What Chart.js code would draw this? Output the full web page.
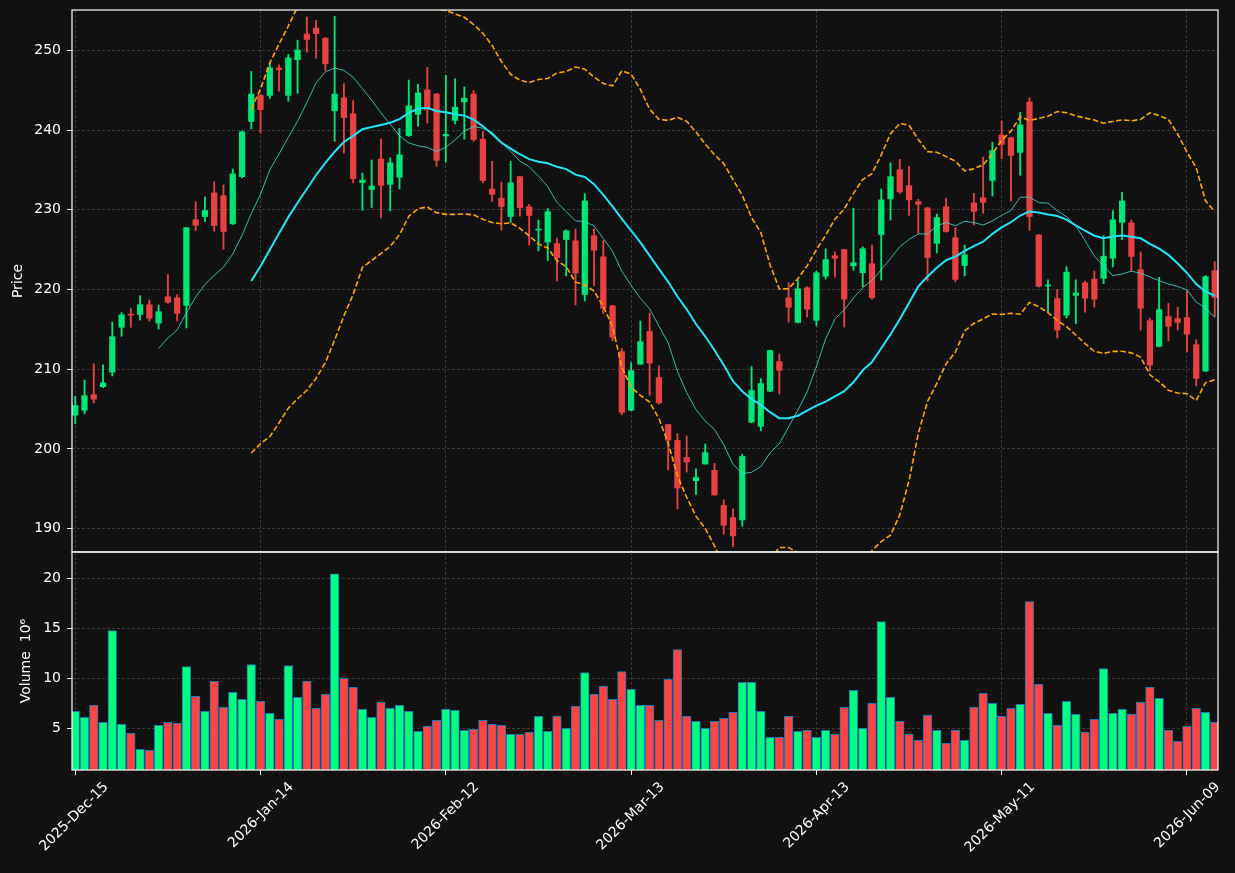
<!DOCTYPE html>
<html><head><meta charset="utf-8">
<script src="https://cdn.jsdelivr.net/npm/chart.js@4.4.1/dist/chart.umd.min.js"></script>
<style>
html,body{margin:0;padding:0;background:#111111;width:1235px;height:873px;overflow:hidden;}
#c1{position:absolute;left:0;top:0;width:1235px;height:553px;}
#c2{position:absolute;left:0;top:551px;width:1235px;height:322px;}
</style></head><body>
<canvas id="c1" width="1235" height="553"></canvas>
<canvas id="c2" width="1235" height="322"></canvas>
<script>
// ---- data (trading days 2025-12-15 .. 2026-06-12) ----
const opens = [204.24,204.85,206.81,207.81,209.64,215.26,216.87,216.87,218.09,215.78,
219.09,218.96,218.00,228.75,229.15,232.11,231.76,228.23,234.15,241.08,
244.34,244.34,247.78,244.34,248.82,252.05,252.79,251.52,242.42,244.04,
242.03,233.41,232.54,236.37,233.19,234.07,239.29,241.95,245.04,244.51,
239.25,241.21,243.51,244.51,238.85,232.59,231.45,229.15,234.15,230.37,
227.45,225.93,225.75,226.27,226.10,219.39,226.75,224.10,217.96,212.21,
204.85,210.64,214.74,208.95,203.07,201.07,198.93,196.02,198.11,197.32,
192.92,191.40,191.10,203.37,202.85,207.25,210.95,218.96,215.87,220.22,
216.13,221.66,224.23,225.01,222.96,222.09,223.23,226.88,231.37,235.02,
233.02,231.02,230.23,225.79,230.37,226.49,223.01,230.85,231.50,233.67,
239.38,239.03,237.20,243.51,226.84,220.44,218.87,216.78,219.26,220.83,
221.31,221.40,223.92,228.41,228.36,222.49,216.09,212.86,216.61,216.35,
216.48,213.08,209.77,222.36];
const highs = [206.60,208.64,210.69,210.56,215.91,217.09,217.61,219.22,218.70,218.05,
221.88,219.35,227.80,231.02,231.58,233.50,233.11,235.11,239.90,247.34,
244.50,248.52,248.17,249.48,251.26,254.18,253.74,251.60,254.27,245.82,
243.69,234.59,236.24,238.85,236.50,240.20,246.26,245.73,247.87,244.60,
246.87,246.43,245.39,244.95,239.81,236.07,233.46,236.07,234.20,230.67,
228.71,230.15,226.45,227.49,227.58,232.02,227.62,226.14,218.00,212.60,
210.82,216.04,217.04,210.43,203.10,201.94,201.63,197.50,200.63,198.19,
193.62,192.49,199.33,210.34,208.82,212.40,211.91,220.83,221.18,220.35,
222.31,225.10,224.71,225.05,230.19,225.36,225.58,232.59,235.89,236.33,
235.46,231.32,230.30,229.45,231.45,227.80,225.58,232.06,236.59,238.46,
241.12,239.10,242.21,244.04,226.90,221.22,220.00,222.88,221.22,221.05,
222.31,226.75,229.89,232.19,228.71,224.71,216.39,221.53,218.26,217.78,
219.79,213.69,221.75,223.49];
const lows = [203.16,204.42,205.77,207.68,209.16,214.13,215.26,216.17,216.04,215.04,
218.26,216.04,215.17,227.40,228.54,227.32,225.05,228.15,233.98,240.12,
239.60,243.95,244.86,243.60,244.60,249.74,249.00,247.47,238.59,237.11,
233.37,229.93,230.28,228.97,229.84,232.59,239.20,240.47,240.86,235.46,
235.98,240.77,238.85,238.59,233.37,231.06,227.45,228.41,229.19,225.58,
224.84,223.62,221.09,221.70,218.05,218.57,220.44,216.96,213.56,204.29,
204.80,210.60,206.72,205.64,197.37,192.49,197.10,194.27,198.10,194.20,
189.31,187.74,190.31,203.30,202.29,207.20,206.90,215.91,215.80,216.56,
215.43,221.31,221.53,215.30,222.40,220.35,218.79,221.18,228.71,232.06,
229.28,227.06,221.09,224.58,227.19,220.96,221.70,228.10,229.58,231.72,
236.42,231.11,234.33,227.40,220.30,217.17,213.91,216.43,215.69,217.17,
217.78,220.74,222.83,226.23,222.31,214.91,209.77,212.80,213.56,214.91,
212.17,207.90,209.70,216.61];
const closes = [205.46,206.68,206.25,208.29,214.08,216.83,216.78,218.09,216.39,217.22,
218.39,217.00,227.75,228.06,229.89,228.01,227.27,234.50,239.77,244.51,
242.56,247.78,247.56,249.04,250.04,251.35,252.09,248.30,244.51,241.55,
233.89,233.72,232.98,233.06,235.89,236.90,243.03,244.65,242.56,236.20,
239.46,242.86,243.99,238.81,233.67,231.93,230.41,233.37,230.28,229.28,
227.54,229.76,224.01,227.36,222.05,231.11,224.92,217.65,214.00,204.59,
209.82,213.47,210.77,205.77,201.11,195.10,198.37,196.45,199.54,194.23,
190.44,189.09,199.06,207.34,208.21,212.34,209.86,217.78,220.09,217.52,
222.09,223.75,223.92,218.79,223.36,225.10,218.96,231.24,234.15,232.24,
231.24,230.67,224.01,229.02,227.27,221.27,224.36,229.80,230.93,237.42,
238.20,236.81,240.64,229.15,220.40,220.57,214.91,222.18,219.57,218.92,
218.79,224.18,228.75,231.11,224.14,217.65,210.51,217.48,215.39,215.87,
214.39,208.86,221.61,219.00];
// volume in millions
const volumes = [6.7,6.1,7.3,5.6,14.8,5.4,4.5,2.9,2.8,5.3,
5.6,5.5,11.2,8.2,6.7,9.7,7.1,8.6,7.9,11.4,
7.7,6.5,5.9,11.3,8.1,9.7,7.0,8.4,20.5,10.0,
9.1,6.9,6.1,7.6,7.0,7.3,6.7,4.7,5.2,5.8,
6.9,6.8,4.8,4.9,5.8,5.4,5.3,4.4,4.4,4.6,
6.2,4.7,6.2,5.0,7.2,10.6,8.4,9.2,7.9,10.7,
8.9,7.3,7.3,5.8,9.9,12.9,6.2,5.7,5.0,5.7,
6.0,6.6,9.6,9.6,6.7,4.1,4.1,6.2,4.7,4.8,
4.1,4.8,4.4,7.1,8.8,5.0,7.5,15.7,8.1,5.7,
4.4,3.8,6.3,4.8,3.5,4.8,3.8,7.1,8.5,7.5,
6.2,7.0,7.4,17.7,9.4,6.5,5.3,7.7,6.4,4.6,
5.9,11.0,6.5,6.9,6.4,7.6,9.1,8.0,4.8,3.7,
5.2,7.0,6.6,5.6];
const tickPositions = [0,20,40,60,80,100,120];
const tickLabels = ['2025-Dec-15','2026-Jan-14','2026-Feb-12','2026-Mar-13','2026-Apr-13','2026-May-11','2026-Jun-09'];
const priceTicks = [190,200,210,220,230,240,250];
const volumeTicks = [5,10,15,20];
const MA_SHORT = 10, MA_LONG = 20, BB_K = 2;

// ---- indicators derived from closes ----
function sma(arr, n){ return arr.map((_, i) => i < n - 1 ? null : arr.slice(i - n + 1, i + 1).reduce((a, b) => a + b, 0) / n); }
function bollinger(arr, n, k){
  const mid = sma(arr, n);
  const up = [], lo = [];
  arr.forEach((_, i) => {
    if (mid[i] === null){ up.push(null); lo.push(null); return; }
    const w = arr.slice(i - n + 1, i + 1);
    const sd = Math.sqrt(w.reduce((a, b) => a + (b - mid[i]) ** 2, 0) / n);
    up.push(mid[i] + k * sd); lo.push(mid[i] - k * sd);
  });
  return {up, lo};
}
const maShort = sma(closes, MA_SHORT);
const maLong = sma(closes, MA_LONG);
const bb = bollinger(closes, MA_LONG, BB_K);
const toPts = arr => arr.map((v, i) => ({x: i, y: v})).filter(p => p.y !== null);

const UP_C = '#00e676', DN_C = '#e84142';
const VUP_C = '#00ff80', VDN_C = '#ff4444';
const isUp = closes.map((c, i) => c >= opens[i]);

const FONT = {family: "'DejaVu Sans', sans-serif", size: 14};
const GRID_C = '#3a3a3a';
const X_MIN = -0.35, X_MAX = 123.35;

const framePlugin = {
  id: 'frame',
  afterDraw(chart){
    const {ctx, chartArea: a} = chart;
    ctx.save();
    ctx.strokeStyle = '#ffffff';
    ctx.lineWidth = 1.2;
    ctx.strokeRect(a.left, a.top, a.right - a.left, a.bottom - a.top);
    ctx.restore();
  }
};

function xScale(showLabels){
  return {
    type: 'linear', min: X_MIN, max: X_MAX, offset: false,
    afterBuildTicks: s => { s.ticks = tickPositions.map(v => ({value: v})); },
    afterFit: s => { s.height = showLabels ? 103 : 0; s.paddingLeft = 0; s.paddingRight = 0; },
    ticks: {display: showLabels, autoSkip: false, minRotation: 45, maxRotation: 45,
      color: '#ffffff', font: FONT, padding: 4, labelOffset: 31,
      callback: (v, i) => tickLabels[i]},
    grid: {offset: false, color: GRID_C, lineWidth: 1, drawTicks: showLabels, tickLength: 5, tickColor: '#ffffff', tickBorderDash: []},
    border: {display: false, dash: [3, 2]}
  };
}
function yScale(min, max, ticks, title, titlePad){
  return {
    type: 'linear', position: 'left', min, max,
    afterBuildTicks: s => { s.ticks = ticks.map(v => ({value: v})); },
    afterFit: s => { s.width = 72; s.paddingTop = 0; s.paddingBottom = 0; },
    ticks: {color: '#ffffff', font: FONT, padding: 6},
    grid: {color: GRID_C, lineWidth: 1, tickLength: 5, tickColor: '#ffffff', tickBorderDash: []},
    border: {display: false, dash: [3, 2]},
    title: {display: true, text: title, color: '#ffffff', font: FONT, padding: {top: titlePad, bottom: 0}}
  };
}

Chart.defaults.font.family = FONT.family;
Chart.defaults.color = '#ffffff';

new Chart(document.getElementById('c1'), {
  type: 'bar',
  data: {
    datasets: [
      {type: 'line', label: 'MA' + MA_SHORT, data: toPts(maShort), borderColor: 'rgba(64,214,200,0.85)', borderWidth: 1, pointRadius: 0, tension: 0, order: 0},
      {type: 'line', label: 'MA' + MA_LONG, data: toPts(maLong), borderColor: '#1ee6f8', borderWidth: 2, pointRadius: 0, tension: 0, order: 0},
      {type: 'line', label: 'BB upper', data: toPts(bb.up), borderColor: '#ffa500', borderWidth: 1.6, borderDash: [5.5, 2.5], pointRadius: 0, tension: 0, order: 0},
      {type: 'line', label: 'BB lower', data: toPts(bb.lo), borderColor: '#ffa500', borderWidth: 1.6, borderDash: [5.5, 2.5], pointRadius: 0, tension: 0, order: 0},
      {label: 'body', data: opens.map((o, i) => ({x: i, y: [o, closes[i]]})), backgroundColor: isUp.map(u => u ? UP_C : DN_C),
        barThickness: 5.6, grouped: false, minBarLength: 1, borderWidth: 0, order: 1},
      {label: 'wick', data: lows.map((l, i) => ({x: i, y: [l, highs[i]]})), backgroundColor: isUp.map(u => u ? UP_C : DN_C),
        barThickness: 1.2, grouped: false, borderWidth: 0, order: 2}
    ]
  },
  options: {
    responsive: false, animation: false, devicePixelRatio: 1,
    layout: {padding: {left: 0, right: 17, top: 10, bottom: 1}},
    plugins: {legend: {display: false}, tooltip: {enabled: false}},
    scales: {x: xScale(false), y: yScale(187.08, 255.05, priceTicks, 'Price', 10)}
  },
  plugins: [framePlugin]
});

new Chart(document.getElementById('c2'), {
  type: 'bar',
  data: {
    datasets: [
      {label: 'Volume', data: volumes.map((v, i) => ({x: i, y: v})), backgroundColor: isUp.map(u => u ? VUP_C : VDN_C),
        borderColor: '#1f77b4', borderWidth: 1, borderSkipped: false, barThickness: 8.6, grouped: false}
    ]
  },
  options: {
    responsive: false, animation: false, devicePixelRatio: 1,
    layout: {padding: {left: 0, right: 17, top: 1, bottom: 0}},
    plugins: {legend: {display: false}, tooltip: {enabled: false}},
    scales: {x: xScale(true), y: yScale(0.82, 22.68, volumeTicks, 'Volume  10\u2076', 18)}
  },
  plugins: [framePlugin]
});
</script>
</body></html>
